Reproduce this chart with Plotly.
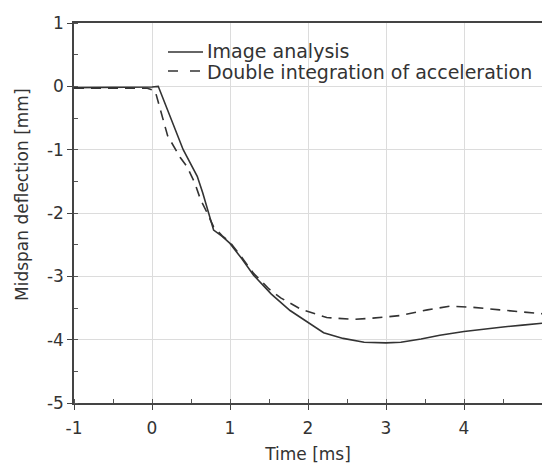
import plotly.graph_objects as go

# Data
t_image = [-1.0, -0.5, 0.0, 0.08, 0.2, 0.4, 0.58, 0.65, 0.79, 0.9, 1.0, 1.15, 1.3, 1.53,
           1.77, 1.94, 2.2, 2.45, 2.72, 3.0, 3.19, 3.45, 3.69, 4.0, 4.2, 4.5, 4.75, 5.0]
y_image = [-0.02, -0.02, -0.01, 0.0, -0.38, -1.0, -1.42, -1.68, -2.27, -2.37, -2.48, -2.72,
           -2.98, -3.28, -3.54, -3.68, -3.89, -3.98, -4.04, -4.05, -4.04, -3.99, -3.93, -3.87,
           -3.84, -3.80, -3.77, -3.74]

t_accel = [-1.0, -0.5, -0.06, 0.04, 0.1, 0.2, 0.36, 0.45, 0.55, 0.62, 0.7, 0.79, 0.9, 1.0,
           1.15, 1.3, 1.5, 1.65, 1.91, 2.24, 2.58, 2.83, 3.18, 3.53, 3.82, 4.12, 4.46, 4.76, 5.0]
y_accel = [-0.03, -0.03, -0.03, -0.07, -0.33, -0.78, -1.12, -1.27, -1.53, -1.78, -1.98, -2.22,
           -2.36, -2.46, -2.70, -2.95, -3.2, -3.34, -3.52, -3.65, -3.68, -3.66, -3.62, -3.53,
           -3.47, -3.49, -3.53, -3.57, -3.59]

names = ["Image analysis", "Double integration of acceleration"]
x_ticks = [-1, 0, 1, 2, 3, 4, 5]
y_ticks = [1, 0, -1, -2, -3, -4, -5]

FONT = "DejaVu Sans"
INK = "#333333"

fig = go.Figure()
fig.add_trace(go.Scatter(x=t_image, y=y_image, mode="lines", name=names[0],
                         line=dict(color=INK, width=1.6), showlegend=False))
fig.add_trace(go.Scatter(x=t_accel, y=y_accel, mode="lines", name=names[1],
                         line=dict(color=INK, width=1.6, dash="10px,7px"), showlegend=False))

W, H = 542, 464
L, R, T, B = 74, 0, 23, 61
pw, ph = W - L - R, H - T - B


def px(xw):  # window x pixel -> paper
    return (xw - L) / pw


def py(yw):  # window y pixel -> paper
    return (H - B - yw) / ph


# manual legend (samples + labels)
fig.add_shape(type="line", xref="paper", yref="paper", x0=px(168), x1=px(203), y0=py(52), y1=py(52),
              line=dict(color=INK, width=1.6))
fig.add_shape(type="line", xref="paper", yref="paper", x0=px(168), x1=px(204), y0=py(71), y1=py(71),
              line=dict(color=INK, width=1.6, dash="10px,12px"))
for i, yy in enumerate([51.5, 71.5]):
    fig.add_annotation(text=names[i], xref="paper", yref="paper", x=px(206), y=py(yy),
                       xanchor="left", yanchor="middle", showarrow=False, borderpad=0,
                       font=dict(family=FONT, size=19, color=INK))

# y axis title as annotation
fig.add_annotation(text="Midspan deflection [mm]", xref="paper", yref="paper",
                   x=px(22), y=py(195), xanchor="center", yanchor="middle",
                   textangle=-90, showarrow=False, font=dict(family=FONT, size=17, color=INK))

axis_common = dict(showline=True, linecolor="#444444", linewidth=1.5, mirror=True,
                   showgrid=True, gridcolor="#dcdcdc", gridwidth=1, zeroline=False,
                   ticks="outside", ticklen=5, tickwidth=1.2, tickcolor="#444444",
                   automargin=False,
                   tickfont=dict(family=FONT, size=17, color=INK))

fig.update_xaxes(range=[-1, 5], tickvals=x_ticks, ticktext=[str(v) for v in x_ticks],
                 ticklabelstandoff=4,
                 minor=dict(dtick=0.5, ticks="inside", ticklen=4, tickcolor="#555555", showgrid=False),
                 title=dict(text="Time [ms]", font=dict(family=FONT, size=17, color=INK), standoff=11),
                 **axis_common)
fig.update_yaxes(range=[-5, 1], tickvals=y_ticks, ticktext=[str(v) for v in y_ticks],
                 minor=dict(dtick=0.5, ticks="inside", ticklen=4, tickcolor="#555555", showgrid=False),
                 **axis_common)

fig.update_layout(width=W, height=H, margin=dict(l=L, r=R, t=T, b=B, pad=0, autoexpand=False),
                  paper_bgcolor="white", plot_bgcolor="white",
                  font=dict(family=FONT, size=17, color=INK))

fig.write_html("out.html", config={"displayModeBar": False},
               post_script="document.body.style.margin='0px';"
                           "document.documentElement.style.overflow='hidden';"
                           "document.body.style.overflow='hidden';")
